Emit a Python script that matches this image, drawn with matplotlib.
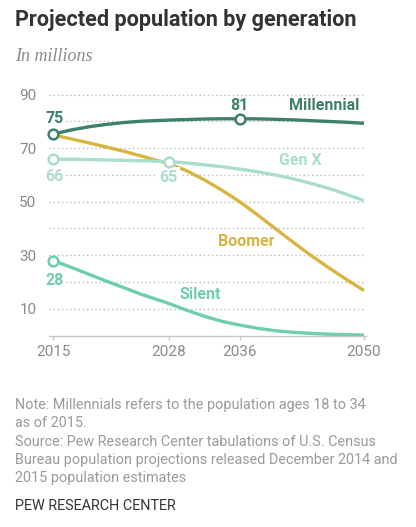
import matplotlib
matplotlib.use("Agg")
import matplotlib.pyplot as plt

years = [2015, 2017, 2019, 2021, 2023, 2025, 2028, 2030, 2032, 2034, 2036,
         2038, 2040, 2042, 2044, 2046, 2048, 2050]
millennial = [75.3, 76.8, 78.0, 78.9, 79.6, 80.1, 80.5, 80.7, 80.9, 81.0, 81.0,
              80.95, 80.8, 80.6, 80.3, 80.0, 79.7, 79.3]
genx = [65.9, 65.85, 65.75, 65.6, 65.45, 65.3, 65.0, 64.5, 63.8, 63.1, 62.2,
        61.2, 60.0, 58.6, 56.9, 55.0, 52.8, 50.4]
boomer = [74.9, 73.5, 72.0, 70.4, 68.8, 67.0, 64.2, 61.6, 58.2, 54.3, 50.0,
          45.1, 40.0, 34.9, 30.0, 25.4, 21.0, 16.8]
silent = [28.0, 25.5, 22.9, 20.3, 17.8, 15.3, 12.0, 9.5, 7.2, 5.3, 3.9,
          2.7, 1.8, 1.2, 0.8, 0.5, 0.3, 0.2]

xticks = [2015, 2028, 2036, 2050]
yticks = [10, 30, 50, 70, 90]
grid_levels = [10, 20, 30, 40, 50, 60, 70, 80, 90]

c_mil = "#3e8069"
c_genx = "#a9ddcd"
c_boom = "#d8b440"
c_sil = "#6ecdb2"
grey = "#8a8a8a"

W, H = 416, 527
fig = plt.figure(figsize=(W / 100, H / 100), dpi=100)
ax = fig.add_axes([49 / W, (H - 335.5) / H, (366 - 49) / W, (335.5 - 92) / H])
ax.set_xlim(2014.52, 2050.23)
ax.set_ylim(0, 91)

for g in grid_levels:
    ax.axhline(g, color="#bbbbbb", lw=1.0, ls=(0, (1, 2)), zorder=1)

lw = 2.4
ax.plot(years, silent, color=c_sil, lw=lw, zorder=3, solid_capstyle="butt")
ax.plot(years, boomer, color=c_boom, lw=lw, zorder=3, solid_capstyle="butt")
ax.plot(years, genx, color=c_genx, lw=lw, zorder=3, solid_capstyle="butt")
ax.plot(years, millennial, color=c_mil, lw=lw, zorder=4, solid_capstyle="butt")

mk = dict(marker="o", ms=7, mfc="white", mew=1.8, ls="none", zorder=6, clip_on=False)
i28 = years.index(2028)
i36 = years.index(2036)
ax.plot([years[0], years[i36]], [millennial[0], millennial[i36]], mec=c_mil, **mk)
ax.plot([years[0], years[i28]], [genx[0], genx[i28]], mec=c_genx, **mk)
ax.plot([years[0]], [silent[0]], mec=c_sil, **mk)

for s in ["top", "right", "left"]:
    ax.spines[s].set_visible(False)
ax.spines["bottom"].set_color("#c8c8c8")
ax.spines["bottom"].set_linewidth(1.0)
ax.spines["bottom"].set_zorder(2)

ax.set_xticks(xticks)
ax.set_xticklabels([str(x) for x in xticks])
ax.set_yticks(yticks)
ax.set_yticklabels([str(y) for y in yticks])
ax.tick_params(axis="x", length=3, width=1, color="#c8c8c8", pad=4,
               labelsize=11, labelcolor=grey)
ax.tick_params(axis="y", length=0, pad=9, labelsize=11, labelcolor=grey)
for t in ax.get_xticklabels() + ax.get_yticklabels():
    t.set_fontfamily("Roboto")

bb = dict(boxstyle="square,pad=0.15", fc="white", ec="none")
lab = dict(fontfamily="Roboto", fontweight="bold", fontsize=11.5, ha="center",
           va="center", zorder=5)
ax.text(2015.1, 81.0, "75", color=c_mil, bbox=bb, **lab)
ax.text(2036, 85.8, "81", color=c_mil, **lab)
ax.text(2015.1, 59.6, "66", color=c_genx, bbox=bb, **lab)
ax.text(2028.0, 59.2, "65", color=c_genx, bbox=bb, **lab)
ax.text(2015.1, 20.6, "28", color=c_sil, bbox=bb, **lab)

ax.text(2045.5, 86.0, "Millennial", color=c_mil, **lab)
ax.text(2042.8, 65.5, "Gen X", color=c_genx, **lab)
ax.text(2036.7, 35.1, "Boomer", color=c_boom, **lab)
ax.text(2031.5, 15.3, "Silent", color=c_sil, **lab)

fig.text(15 / W, 1 - 20 / H, "Projected population by generation", fontfamily="Roboto",
         fontweight="bold", fontsize=15.6, color="#333333", ha="left", va="center")
fig.text(15 / W, 1 - 56.5 / H, "In millions", fontfamily="Liberation Serif",
         fontstyle="italic", fontsize=13, color=grey, ha="left", va="center")

notes = [
    "Note: Millennials refers to the population ages 18 to 34",
    "as of 2015.",
    "Source: Pew Research Center tabulations of U.S. Census",
    "Bureau population projections released December 2014 and",
    "2015 population estimates",
]
for i, line in enumerate(notes):
    fig.text(15 / W, 1 - (405 + 18.3 * i) / H, line, fontfamily="Roboto",
             fontsize=10.35, color="#9a9a9a", ha="left", va="center")
fig.text(15 / W, 1 - 506.5 / H, "PEW RESEARCH CENTER", fontfamily="Roboto",
         fontsize=10.35, color="#333333", ha="left", va="center")

fig.savefig("out.png", dpi=100, facecolor="white")
